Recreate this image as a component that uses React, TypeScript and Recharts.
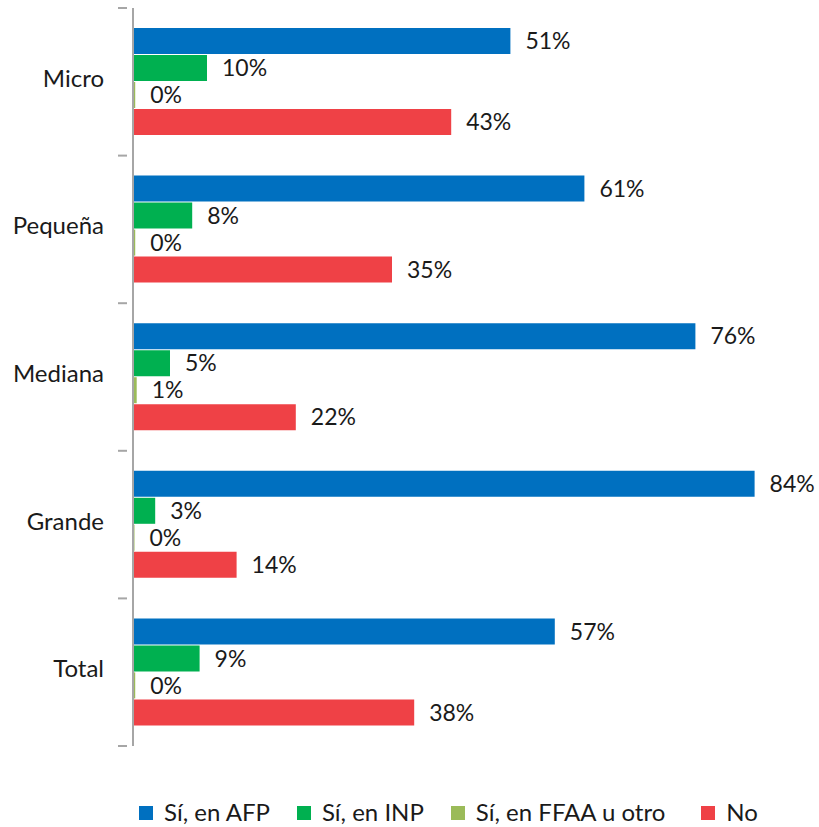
import { BarChart, Bar, XAxis, YAxis, Legend, LabelList } from 'recharts'

const categories = ['Micro', 'Pequeña', 'Mediana', 'Grande', 'Total']
const afp = [51, 61, 76, 84, 57]
const inp = [10, 8, 5, 3, 9]
const ffaa = [0.3, 0.3, 0.5, 0.2, 0.3]
const no = [43, 35, 22, 14, 38]

const series = [
  { key: 'afp', name: 'Sí, en AFP', color: '#0070C0' },
  { key: 'inp', name: 'Sí, en INP', color: '#00B050' },
  { key: 'ffaa', name: 'Sí, en FFAA u otro', color: '#9BBB59' },
  { key: 'no', name: 'No', color: '#EF4146' },
]

const data = categories.map((c, i) => ({
  cat: c,
  afp: afp[i],
  inp: inp[i],
  ffaa: ffaa[i],
  no: no[i],
}))

const W = 819
const H = 827
const MARGIN = { top: 8, right: 20, bottom: 57, left: 0 }
const LEGEND_H = 24
const BAND = (H - MARGIN.top - MARGIN.bottom - LEGEND_H) / categories.length
const FONT = 'Lato, sans-serif'
const TXT = '#1a1a1a'

// Excel style: label at band centre, tick marks on band edges
function CatTick(props: any) {
  const { x, y, payload, index } = props
  const last = index === categories.length - 1
  return (
    <g>
      <line x1={x + 19} x2={x + 28} y1={y - BAND / 2} y2={y - BAND / 2} stroke="#a6a6a6" strokeWidth={2} />
      {last && (
        <line x1={x + 19} x2={x + 28} y1={y + BAND / 2} y2={y + BAND / 2} stroke="#a6a6a6" strokeWidth={2} />
      )}
      <text x={x + 5} y={y} dy={5} textAnchor="end" fontSize={24} fill={TXT} fontFamily={FONT}>
        {payload.value}
      </text>
    </g>
  )
}

function LegendBox() {
  return (
    <div style={{ display: 'flex', alignItems: 'center', paddingLeft: 139, fontFamily: FONT, fontSize: 24, color: TXT, height: LEGEND_H }}>
      {series.map((s, i) => (
        <span key={s.key} style={{ display: 'flex', alignItems: 'center', marginRight: i === 2 ? 36 : 27 }}>
          <span style={{ display: 'inline-block', width: 14, height: 14, background: s.color, marginRight: 11, marginTop: 4 }} />
          {s.name}
        </span>
      ))}
    </div>
  )
}

export default function App() {
  return (
    <div style={{ position: 'absolute', left: 0, top: 0, width: W, height: H, background: '#fff' }}>
      <BarChart
        width={W}
        height={H}
        data={data}
        layout="vertical"
        margin={MARGIN}
        barSize={26}
        barGap={1}
      >
        <XAxis type="number" domain={[0, 90]} hide />
        <YAxis
          type="category"
          dataKey="cat"
          width={133}
          axisLine={{ stroke: '#a6a6a6', strokeWidth: 2 }}
          tickLine={false}
          tickMargin={28}
          tick={<CatTick />}
        />
        <Legend
          verticalAlign="bottom"
          height={LEGEND_H}
          wrapperStyle={{ bottom: 4, left: 0 }}
          content={() => <LegendBox />}
        />
        {series.map((s) => (
          <Bar key={s.key} dataKey={s.key} name={s.name} fill={s.color} isAnimationActive={false}>
            <LabelList
              dataKey={s.key}
              position="right"
              offset={15}
              formatter={(v: any) => `${Math.round(Number(v))}%`}
              style={{ fontSize: 23, fill: TXT, fontFamily: FONT }}
            />
          </Bar>
        ))}
      </BarChart>
    </div>
  )
}
